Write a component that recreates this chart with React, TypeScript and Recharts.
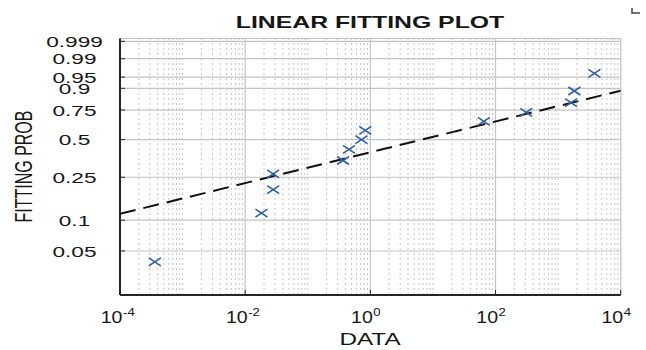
import React from 'react';
import { ScatterChart, Scatter, XAxis, YAxis, CartesianGrid, Customized } from 'recharts';

// Observed data (x on log scale, fitted probability on Weibull probability scale)
const dataX = [0.00036, 0.0182, 0.028, 0.028, 0.366, 0.456, 0.72, 0.83, 65, 309, 1610, 1820, 3800];
const dataP = [0.039, 0.117, 0.194, 0.268, 0.347, 0.424, 0.5, 0.577, 0.654, 0.731, 0.808, 0.885, 0.962];

// Fitted line end points
const fitX = [1e-4, 1e4];
const fitP = [0.115, 0.887];

// Axis ticks
const xTicks = [1e-4, 1e-2, 1, 1e2, 1e4];
const xTickExponents = ['-4', '-2', '0', '2', '4'];
const yTickProbs = [0.05, 0.1, 0.25, 0.5, 0.75, 0.9, 0.95, 0.99, 0.999];
const yTickLabels = ['0.05', '0.1', '0.25', '0.5', '0.75', '0.9', '0.95', '0.99', '0.999'];

// Weibull probability-paper transform
const weib = (p: number) => Math.log(-Math.log(1 - p));

const pointData = dataX.map((x, i) => ({ x, y: weib(dataP[i]) }));
const fitData = fitX.map((x, i) => ({ x, y: weib(fitP[i]) }));
const yTicks = yTickProbs.map(weib);

// minor grid positions: 1..9 x 10^k (excluding major ticks)
const minorTicks: number[] = [];
for (let k = -4; k <= 3; k++) {
  for (let m = 1; m <= 9; m++) {
    const v = m * Math.pow(10, k);
    if (!xTicks.some((t) => Math.abs(t - v) / t < 1e-9)) minorTicks.push(v);
  }
}

const FONT = '"Liberation Sans", Arial, Helvetica, sans-serif';
const TXT = '#161616';

const nearestIndex = (arr: number[], v: number, log = false) => {
  let best = 0;
  let bd = Infinity;
  arr.forEach((a, i) => {
    const d = log ? Math.abs(Math.log10(a) - Math.log10(v)) : Math.abs(a - v);
    if (d < bd) {
      bd = d;
      best = i;
    }
  });
  return best;
};

const XTick = (props: any) => {
  const { x, y, payload } = props;
  const i = nearestIndex(xTicks, payload.value, true);
  return (
    <g>
      <line x1={x} x2={x} y1={y} y2={y - 5} stroke="#262626" strokeWidth={1} />
      <g transform={`translate(${x + 2.5},${y + 28}) scale(1.2,1)`}>
        <text textAnchor="end" fontSize={16.3} fontFamily={FONT} fill={TXT}>
          10
        </text>
      </g>
      <g transform={`translate(${x + 3},${y + 21}) scale(1.2,1)`}>
        <text textAnchor="start" fontSize={11} fontFamily={FONT} fill={TXT}>
          {xTickExponents[i]}
        </text>
      </g>
    </g>
  );
};

const YTick = (props: any) => {
  const { x, y, payload } = props;
  const i = nearestIndex(yTicks, payload.value);
  return (
    <g>
      <line x1={x} x2={x + 5} y1={y} y2={y} stroke="#262626" strokeWidth={1} />
      <g transform={`translate(${x - 45.5},${y}) scale(1.47,1)`}>
        <text textAnchor="middle" dominantBaseline="central" fontSize={15.4} fontFamily={FONT} fill={TXT}>
          {yTickLabels[i]}
        </text>
      </g>
    </g>
  );
};

const XMark = (props: any) => {
  const { cx, cy } = props;
  if (cx == null || cy == null) return <g />;
  return (
    <path
      d={`M${cx - 6},${cy - 4}L${cx + 6},${cy + 4}M${cx - 6},${cy + 4}L${cx + 6},${cy - 4}`}
      stroke="#2d5ea8"
      strokeWidth={1.6}
      fill="none"
    />
  );
};

const NoShape = () => <g />;

const Labels = () => (
  <g>
    <g transform="translate(370,28.3) scale(1.52,1)">
      <text textAnchor="middle" fontSize={16.3} fontWeight="bold" fontFamily={FONT} fill={TXT}>
        LINEAR FITTING PLOT
      </text>
    </g>
    <g transform="translate(23.4,166.5) scale(1.45,1) rotate(-90)">
      <text textAnchor="middle" dominantBaseline="central" fontSize={16} fontFamily={FONT} fill={TXT}>
        FITTING PROB
      </text>
    </g>
    <g transform="translate(370,344.5) scale(1.43,1)">
      <text textAnchor="middle" fontSize={17} fontFamily={FONT} fill={TXT}>
        DATA
      </text>
    </g>
    <path d="M632,8L632,13L640,13" stroke="#444" strokeWidth={1.5} fill="none" />
  </g>
);

export default function App() {
  return (
    <div style={{ position: 'absolute', left: 0, top: 0, width: 646, height: 350, background: '#fff' }}>
      <ScatterChart width={646} height={350} margin={{ top: 38.5, right: 25.3, bottom: 0, left: 0 }}>
        <CartesianGrid xAxisId="minor" horizontal={false} stroke="#8a8a8a" strokeDasharray="1 4" />
        <CartesianGrid stroke="#c4c4c4" strokeWidth={1.2} />
        <XAxis
          xAxisId="minor"
          type="number"
          dataKey="x"
          scale="log"
          domain={[1e-4, 1e4]}
          ticks={minorTicks}
          interval={0}
          hide
          allowDataOverflow
        />
        <XAxis
          type="number"
          dataKey="x"
          scale="log"
          domain={[1e-4, 1e4]}
          ticks={xTicks}
          interval={0}
          height={55}
          tickSize={0}
          tickMargin={0}
          tickLine={false}
          axisLine={{ stroke: '#262626', strokeWidth: 2 }}
          tick={(p: any) => <XTick {...p} />}
          allowDataOverflow
        />
        <YAxis
          type="number"
          dataKey="y"
          domain={[-4, 2]}
          ticks={yTicks}
          interval={0}
          width={120}
          tickSize={0}
          tickMargin={0}
          tickLine={false}
          axisLine={{ stroke: '#262626', strokeWidth: 2 }}
          tick={(p: any) => <YTick {...p} />}
          allowDataOverflow
        />
        <Scatter
          data={fitData}
          line={{ stroke: '#111', strokeWidth: 2, strokeDasharray: '16 8' }}
          shape={NoShape}
          isAnimationActive={false}
        />
        <Scatter data={pointData} shape={XMark} isAnimationActive={false} />
        <Customized component={Labels} />
      </ScatterChart>
    </div>
  );
}
